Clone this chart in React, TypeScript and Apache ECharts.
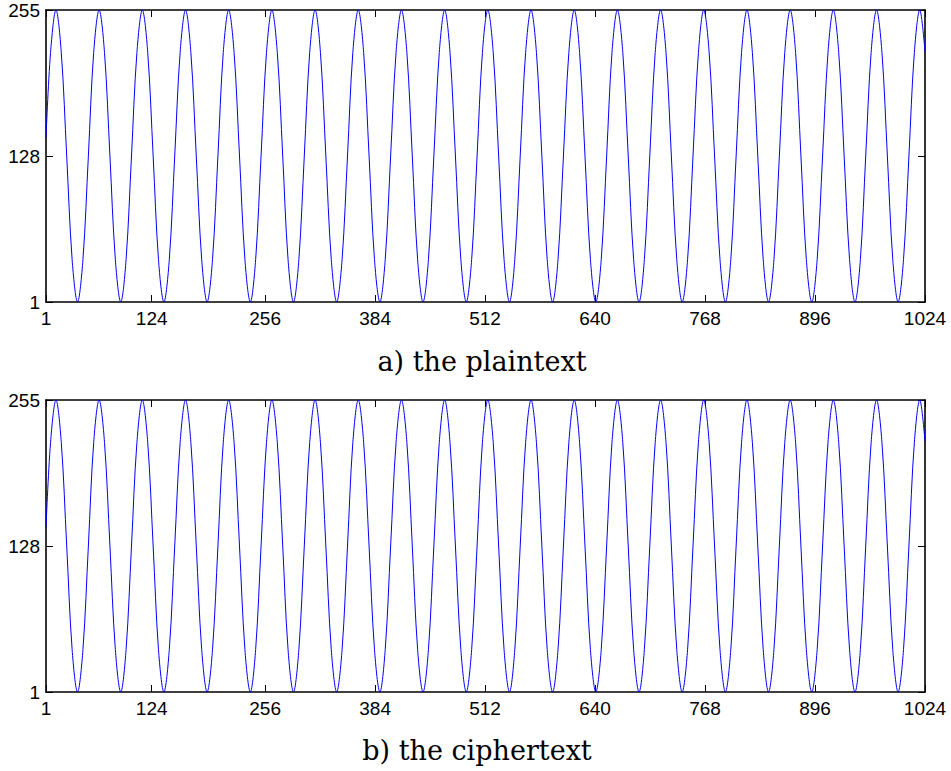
import React, { useEffect, useRef } from 'react';
import * as echarts from 'echarts';

// Sample positions read along the x axis (peaks, troughs, mid-crossings and the points between them)
const sampleX = [
  1,
  6.3, 12.6, 18.8, 25.1, 31.4, 37.7, 44.0, 50.3,
  56.5, 62.8, 69.1, 75.4, 81.7, 88.0, 94.2, 100.5,
  106.8, 113.1, 119.4, 125.7, 131.9, 138.2, 144.5, 150.8,
  157.1, 163.4, 169.6, 175.9, 182.2, 188.5, 194.8, 201.1,
  207.3, 213.6, 219.9, 226.2, 232.5, 238.8, 245.0, 251.3,
  257.6, 263.9, 270.2, 276.5, 282.7, 289.0, 295.3, 301.6,
  307.9, 314.2, 320.4, 326.7, 333.0, 339.3, 345.6, 351.9,
  358.1, 364.4, 370.7, 377.0, 383.3, 389.6, 395.8, 402.1,
  408.4, 414.7, 421.0, 427.3, 433.5, 439.8, 446.1, 452.4,
  458.7, 465.0, 471.2, 477.5, 483.8, 490.1, 496.4, 502.7,
  508.9, 515.2, 521.5, 527.8, 534.1, 540.4, 546.6, 552.9,
  559.2, 565.5, 571.8, 578.1, 584.3, 590.6, 596.9, 603.2,
  609.5, 615.8, 622.0, 628.3, 634.6, 640.9, 647.2, 653.5,
  659.7, 666.0, 672.3, 678.6, 684.9, 691.2, 697.4, 703.7,
  710.0, 716.3, 722.6, 728.8, 735.1, 741.4, 747.7, 754.0,
  760.3, 766.5, 772.8, 779.1, 785.4, 791.7, 798.0, 804.2,
  810.5, 816.8, 823.1, 829.4, 835.7, 841.9, 848.2, 854.5,
  860.8, 867.1, 873.4, 879.6, 885.9, 892.2, 898.5, 904.8,
  911.1, 917.3, 923.6, 929.9, 936.2, 942.5, 948.8, 955.0,
  961.3, 967.6, 973.9, 980.2, 986.5, 992.7, 999.0, 1005.3,
  1011.6, 1017.9,
  1024,
];

// Plaintext values read at those positions
const plaintextValues = [
  144,
  218, 255, 218, 128, 38, 1, 38, 128,
  218, 255, 218, 128, 38, 1, 38, 128,
  218, 255, 218, 128, 38, 1, 38, 128,
  218, 255, 218, 128, 38, 1, 38, 128,
  218, 255, 218, 128, 38, 1, 38, 128,
  218, 255, 218, 128, 38, 1, 38, 128,
  218, 255, 218, 128, 38, 1, 38, 128,
  218, 255, 218, 128, 38, 1, 38, 128,
  218, 255, 218, 128, 38, 1, 38, 128,
  218, 255, 218, 128, 38, 1, 38, 128,
  218, 255, 218, 128, 38, 1, 38, 128,
  218, 255, 218, 128, 38, 1, 38, 128,
  218, 255, 218, 128, 38, 1, 38, 128,
  218, 255, 218, 128, 38, 1, 38, 128,
  218, 255, 218, 128, 38, 1, 38, 128,
  218, 255, 218, 128, 38, 1, 38, 128,
  218, 255, 218, 128, 38, 1, 38, 128,
  218, 255, 218, 128, 38, 1, 38, 128,
  218, 255, 218, 128, 38, 1, 38, 128,
  218, 255, 218, 128, 38, 1, 38, 128,
  218, 255,
  219,
];

// Ciphertext values read at those positions
const ciphertextValues = [
  144,
  218, 255, 218, 128, 38, 1, 38, 128,
  218, 255, 218, 128, 38, 1, 38, 128,
  218, 255, 218, 128, 38, 1, 38, 128,
  218, 255, 218, 128, 38, 1, 38, 128,
  218, 255, 218, 128, 38, 1, 38, 128,
  218, 255, 218, 128, 38, 1, 38, 128,
  218, 255, 218, 128, 38, 1, 38, 128,
  218, 255, 218, 128, 38, 1, 38, 128,
  218, 255, 218, 128, 38, 1, 38, 128,
  218, 255, 218, 128, 38, 1, 38, 128,
  218, 255, 218, 128, 38, 1, 38, 128,
  218, 255, 218, 128, 38, 1, 38, 128,
  218, 255, 218, 128, 38, 1, 38, 128,
  218, 255, 218, 128, 38, 1, 38, 128,
  218, 255, 218, 128, 38, 1, 38, 128,
  218, 255, 218, 128, 38, 1, 38, 128,
  218, 255, 218, 128, 38, 1, 38, 128,
  218, 255, 218, 128, 38, 1, 38, 128,
  218, 255, 218, 128, 38, 1, 38, 128,
  218, 255, 218, 128, 38, 1, 38, 128,
  218, 255,
  219,
];

const xTickValues = [1, 124, 256, 384, 512, 640, 768, 896, 1024];
const yTickValues = [1, 128, 255];
const captions = ['a) the plaintext', 'b) the ciphertext'];

export default function App() {
  const ref = useRef<HTMLDivElement>(null);

  useEffect(() => {
    const chart = echarts.init(ref.current as HTMLDivElement, null, { renderer: 'svg' });

    const grids = [
      { left: 46, right: 26, top: 10, height: 292 },
      { left: 46, right: 26, top: 400, height: 292 },
    ];

    const frameLine = { color: '#000', width: 1.6 };
    const tickLine = { color: '#000', width: 1 };
    const labelFont = {
      color: '#000',
      fontSize: 19,
      fontFamily: '"Liberation Sans", Arial, Helvetica, sans-serif',
    };
    const plainNumber = (v: number) => String(v);

    const xAxes: any[] = [];
    const yAxes: any[] = [];
    grids.forEach((_, gi) => {
      ['bottom', 'top'].forEach((pos) => {
        xAxes.push({
          type: 'value',
          gridIndex: gi,
          position: pos,
          min: 1,
          max: 1024,
          axisLine: { show: true, onZero: false, lineStyle: frameLine },
          axisTick: { show: true, inside: true, length: 7, customValues: xTickValues, lineStyle: tickLine },
          axisLabel: {
            show: pos === 'bottom',
            customValues: xTickValues,
            formatter: plainNumber,
            margin: 7,
            showMinLabel: true,
            showMaxLabel: true,
            ...labelFont,
          },
          splitLine: { show: false },
        });
      });
      ['left', 'right'].forEach((pos) => {
        yAxes.push({
          type: 'value',
          gridIndex: gi,
          position: pos,
          min: 1,
          max: 255,
          axisLine: { show: true, onZero: false, lineStyle: frameLine },
          axisTick: { show: true, inside: true, length: 7, customValues: yTickValues, lineStyle: tickLine },
          axisLabel: {
            show: pos === 'left',
            customValues: yTickValues,
            formatter: plainNumber,
            margin: 6,
            showMinLabel: true,
            showMaxLabel: true,
            ...labelFont,
          },
          splitLine: { show: false },
        });
      });
    });

    const seriesValues = [plaintextValues, ciphertextValues];

    chart.setOption({
      animation: false,
      backgroundColor: '#ffffff',
      grid: grids,
      xAxis: xAxes,
      yAxis: yAxes,
      series: seriesValues.map((vals, i) => ({
        type: 'line',
        name: captions[i],
        xAxisIndex: i * 2,
        yAxisIndex: i * 2,
        data: sampleX.map((x, j) => [x, vals[j]]),
        showSymbol: false,
        symbol: 'none',
        smooth: 0.35,
        clip: true,
        lineStyle: { color: '#0000ff', width: 1 },
      })),
      graphic: [
        {
          type: 'text',
          x: 482,
          y: 361,
          style: {
            text: captions[0],
            font: '27px "DejaVu Serif", serif',
            fill: '#000',
            textAlign: 'center',
            textVerticalAlign: 'middle',
          },
        },
        {
          type: 'text',
          x: 477,
          y: 750,
          style: {
            text: captions[1],
            font: '27px "DejaVu Serif", serif',
            fill: '#000',
            textAlign: 'center',
            textVerticalAlign: 'middle',
          },
        },
      ],
    });

    return () => {
      chart.dispose();
    };
  }, []);

  return (
    <div
      ref={ref}
      style={{ position: 'absolute', left: 0, top: 0, width: 951, height: 771 }}
    />
  );
}
